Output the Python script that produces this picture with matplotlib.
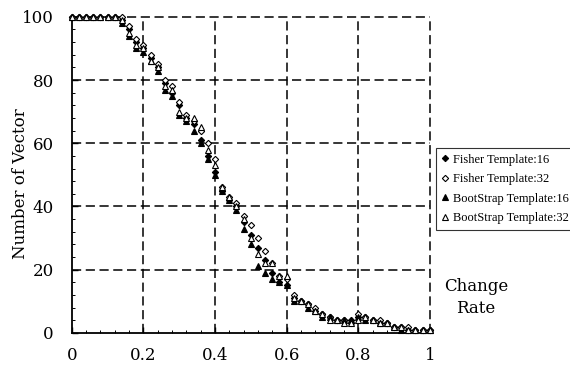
"""
number of vectors vs change rate, fisher / bootstrap templates
"""
import numpy as np
import matplotlib
matplotlib.use('Agg')
import matplotlib.pyplot as plt
from matplotlib.ticker import MultipleLocator

CHANGE_RATE = np.round(np.arange(0, 1.0001, 0.02), 2)

FISHER_16 = [100, 100, 100, 100, 100, 100, 100, 99, 96, 92,
             90, 87, 84, 79, 76, 72, 68, 66, 61, 56,
             51, 45, 42, 40, 35, 31, 27, 23, 19, 16,
             15, 11, 10, 9, 7, 6, 5, 4, 4, 4,
             5, 5, 4, 3, 3, 2, 2, 1, 1, 1, 1]
FISHER_32 = [100, 100, 100, 100, 100, 100, 100, 100, 97, 93,
             91, 88, 85, 80, 78, 73, 69, 67, 64, 60,
             55, 46, 43, 41, 37, 34, 30, 26, 22, 18,
             17, 12, 10, 9, 8, 6, 5, 4, 4, 3,
             6, 5, 4, 4, 3, 2, 2, 2, 1, 1, 1]
BOOT_16 = [100, 100, 100, 100, 100, 100, 100, 98, 94, 90,
           89, 86, 83, 77, 75, 69, 67, 64, 60, 55,
           50, 45, 42, 39, 33, 28, 21, 19, 17, 16,
           15, 10, 10, 8, 7, 5, 5, 4, 4, 4,
           5, 4, 4, 3, 3, 2, 1, 1, 1, 1, 1]
BOOT_32 = [100, 100, 100, 100, 100, 100, 100, 99, 95, 91,
           90, 86, 84, 78, 77, 70, 68, 68, 65, 58,
           53, 46, 43, 40, 36, 30, 25, 22, 22, 18,
           18, 11, 10, 9, 7, 6, 4, 4, 3, 3,
           4, 5, 4, 3, 3, 2, 2, 1, 1, 1, 1]

SERIES = [
    ('Fisher Template:16', FISHER_16, 'D', 'black'),
    ('Fisher Template:32', FISHER_32, 'D', 'white'),
    ('BootStrap Template:16', BOOT_16, '^', 'black'),
    ('BootStrap Template:32', BOOT_32, '^', 'white'),
]

plt.rcParams['font.family'] = ['DejaVu Serif']

fig = plt.figure(figsize=(5.7, 3.74), dpi=100)
ax = fig.add_axes([0.126, 0.110, 0.628, 0.845])

handles = []
for label, values, marker, face in SERIES:
    ms = 3.2 if marker == 'D' else 4.0
    h, = ax.plot(CHANGE_RATE, values, linestyle='none', marker=marker,
                 markersize=ms, markerfacecolor=face,
                 markeredgecolor='black', markeredgewidth=0.8,
                 label=label, clip_on=False, zorder=3)
    handles.append(h)

ax.set_xlim(0, 1)
ax.set_ylim(0, 100)
ax.yaxis.set_minor_locator(MultipleLocator(4))
ax.xaxis.set_minor_locator(MultipleLocator(0.04))
ax.set_yticks([0, 20, 40, 60, 80, 100])
ax.set_xticks([0, 0.2, 0.4, 0.6, 0.8, 1.0])
ax.set_xticklabels(['0', '0.2', '0.4', '0.6', '0.8', '1'])
ax.tick_params(which='major', direction='in', length=4, width=1,
               labelsize=12, pad=10)
ax.tick_params(which='minor', direction='in', length=2, width=0.7)
ax.tick_params(axis='y', pad=13)

for side in ('top', 'right'):
    ax.spines[side].set_visible(False)
for side in ('left', 'bottom'):
    ax.spines[side].set_linewidth(1.3)

for xv in [0.2, 0.4, 0.6, 0.8, 1.0]:
    ax.axvline(xv, color='black', linestyle=(0, (6, 3)), linewidth=1.1,
               zorder=1, clip_on=False)
for yv in [20, 40, 60, 80, 100]:
    ax.axhline(yv, color='black', linestyle=(0, (6, 3)), linewidth=1.1,
               zorder=1, clip_on=False)

fig.text(0.036, 0.51, 'Number of Vector', rotation=90, ha='center',
         va='center', fontsize=12)

fig.text(0.835, 0.205, 'Change\nRate', ha='center', va='center',
         fontsize=12, linespacing=1.4)

leg = fig.legend(handles=handles, loc='center left',
                 bbox_to_anchor=(0.765, 0.495),
                 prop={'family': 'Liberation Serif', 'size': 9},
                 frameon=True, fancybox=False, borderpad=0.45,
                 handlelength=0.6, handletextpad=0.3, labelspacing=0.6,
                 borderaxespad=0)
leg.get_frame().set_edgecolor('black')
leg.get_frame().set_linewidth(0.8)

plt.savefig('out.png', dpi=100)
plt.close()
